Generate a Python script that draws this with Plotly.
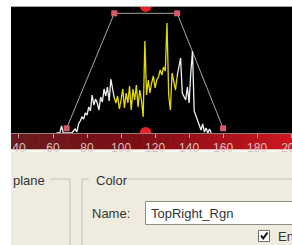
import plotly.graph_objects as go

# ---------------- data ----------------
bins = list(range(62, 154))
counts = [0, 0, 0, 7, 0, 0, 0, 0, 0, 0,
          2, 4, 1, 9, 12, 16, 14, 20, 18, 26,
          22, 38, 28, 34, 30, 23, 36, 31, 44, 37,
          46, 32, 54, 42, 35, 30, 37, 24, 33, 44,
          25, 40, 30, 47, 23, 44, 33, 48, 26, 43,
          33, 16, 92, 38, 53, 40, 50, 57, 45, 53,
          56, 63, 58, 66, 62, 110, 38, 23, 60, 50,
          43, 57, 66, 75, 40, 36, 33, 46, 30, 60,
          82, 22, 17, 13, 7, 3, 9, 1, 5, 0,
          4, 0]
trap_x = [68, 96, 133, 160]
trap_y = [4.7, 119.7, 119.7, 4.7]
mid_x = 114.5
tick_vals = [40, 60, 80, 100, 120, 140, 160, 180, 200]
tick_text = ["40", "60", "80", "100", "120", "140", "160", "180", "200"]
ui_texts = {"group1": "plane", "group2": "Color", "name_label": "Name:",
            "name_value": "TopRight_Rgn", "check": "En"}

# ---------------- layout helpers ----------------
W, H = 292, 245
def X(p): return p / W
def Y(p): return 1 - p / H

lo, hi = trap_x[1], trap_x[2]
wx1, wy1, wx2, wy2, yx, yy = [], [], [], [], [], []
for b, c in zip(bins, counts):
    if b <= lo:
        wx1.append(b); wy1.append(c)
    if b >= hi:
        wx2.append(b); wy2.append(c)
    if lo <= b <= hi:
        yx.append(b); yy.append(c)

fig = go.Figure()
fig.add_trace(go.Scatter(x=trap_x, y=trap_y, mode="lines",
                         line=dict(color="#a8a8a8", width=1), hoverinfo="skip"))
fig.add_trace(go.Scatter(x=wx1 + [None] + wx2, y=wy1 + [None] + wy2, mode="lines",
                         line=dict(color="#f2f2f2", width=1.3), hoverinfo="skip"))
fig.add_trace(go.Scatter(x=yx, y=yy, mode="lines",
                         line=dict(color="#e6dc00", width=1.3), hoverinfo="skip"))
fig.add_trace(go.Scatter(x=trap_x, y=trap_y, mode="markers",
                         marker=dict(symbol="square", size=6, color="#d85a6a",
                                     line=dict(width=0)), hoverinfo="skip"))
fig.add_trace(go.Scatter(x=[mid_x, mid_x], y=[127, 0], mode="markers",
                         marker=dict(symbol="circle", size=12, color="#e8202a",
                                     line=dict(width=0)), hoverinfo="skip"))

shapes = []
# red gradient axis band
n = 60
x0, x1 = 11, 292
stops = [(0.0, (105, 28, 32)), (0.45, (125, 14, 22)), (1.0, (205, 22, 32))]
def col(t):
    for (ta, ca), (tb, cb) in zip(stops[:-1], stops[1:]):
        if ta <= t <= tb:
            f = (t - ta) / (tb - ta)
            return "rgb(%d,%d,%d)" % tuple(int(ca[i] + (cb[i] - ca[i]) * f) for i in range(3))
    return "rgb(%d,%d,%d)" % stops[-1][1]
for i in range(n):
    a = x0 + (x1 - x0) * i / n
    b = x0 + (x1 - x0) * (i + 1) / n + 0.6
    shapes.append(dict(type="rect", xref="paper", yref="paper", x0=X(a), x1=X(b),
                       y0=Y(149.5), y1=Y(133), fillcolor=col(i / (n - 1)),
                       line=dict(width=0), layer="below"))
# line at top of band
shapes.append(dict(type="line", xref="paper", yref="paper", x0=X(11), x1=X(292),
                   y0=Y(133.5), y1=Y(133.5), line=dict(color="#9a7a7a", width=1), layer="above"))
# top gray line of the plot
shapes.append(dict(type="line", xref="paper", yref="paper", x0=X(11), x1=X(292),
                   y0=Y(6.5), y1=Y(6.5), line=dict(color="#a8a8a0", width=1), layer="above"))
# beige panel
shapes.append(dict(type="rect", xref="paper", yref="paper", x0=X(11), x1=X(293),
                   y0=Y(246), y1=Y(149.5), fillcolor="#efebdf", line=dict(width=0), layer="below"))
shapes.append(dict(type="line", xref="paper", yref="paper", x0=X(11), x1=X(292),
                   y0=Y(151), y1=Y(151), line=dict(color="#faf8f2", width=2), layer="below"))
# group boxes
gl = dict(color="#c4c0b0", width=1)
shapes += [
    dict(type="line", xref="paper", yref="paper", x0=X(50), x1=X(70), y0=Y(179), y1=Y(179), line=gl),
    dict(type="line", xref="paper", yref="paper", x0=X(70), x1=X(70), y0=Y(179), y1=Y(246), line=gl),
    dict(type="line", xref="paper", yref="paper", x0=X(82), x1=X(82), y0=Y(179), y1=Y(246), line=gl),
    dict(type="line", xref="paper", yref="paper", x0=X(82), x1=X(89), y0=Y(179), y1=Y(179), line=gl),
    dict(type="line", xref="paper", yref="paper", x0=X(128), x1=X(293), y0=Y(179), y1=Y(179), line=gl),
]
# input box
shapes.append(dict(type="rect", xref="paper", yref="paper", x0=X(145.5), x1=X(300),
                   y0=Y(224.5), y1=Y(201.5), fillcolor="#ffffff",
                   line=dict(color="#8c8c88", width=1)))
# checkbox
shapes.append(dict(type="rect", xref="paper", yref="paper", x0=X(258.5), x1=X(269.5),
                   y0=Y(241.5), y1=Y(230.5), fillcolor="#ffffff",
                   line=dict(color="#6c6c68", width=1)))
shapes.append(dict(type="path", xref="paper", yref="paper",
                   path="M %f %f L %f %f L %f %f" % (X(261), Y(235.5), X(263.3), Y(238.3), X(267.5), Y(232.5)),
                   line=dict(color="#101010", width=2)))

ann = []
tf = dict(family="Liberation Sans, Arial, sans-serif", size=13, color="#343434")
def text(t, x, y, anchor="left"):
    ann.append(dict(text=t, xref="paper", yref="paper", x=X(x), y=Y(y),
                    xanchor=anchor, yanchor="middle", showarrow=False, font=tf))
text(ui_texts["group1"], 11, 180)
text(ui_texts["group2"], 94, 180)
text(ui_texts["name_label"], 90, 213)
text(ui_texts["name_value"], 149, 213)
text(ui_texts["check"], 276, 236)

fig.update_layout(
    width=W, height=H, margin=dict(l=0, r=0, t=0, b=0),
    paper_bgcolor="#ffffff", plot_bgcolor="#000000",
    showlegend=False, template="none",
    xaxis=dict(domain=[X(11), 1], range=[35.3, 200.5], showgrid=False, zeroline=False,
               showline=False, tickvals=tick_vals, ticktext=tick_text,
               ticks="outside", ticklen=4, tickcolor="#c8a0a0", tickwidth=1,
               ticklabeloverflow="allow",
               tickfont=dict(family="Liberation Sans, Arial, sans-serif", size=12, color="#d8c0c0"),
               automargin=False, fixedrange=True),
    yaxis=dict(domain=[Y(133), Y(6)], range=[0, 127], visible=False,
               automargin=False, fixedrange=True),
    shapes=shapes, annotations=ann,
)
fig.write_html("out.html", config={"displayModeBar": False},
               post_script="document.body.style.margin='0';document.body.style.overflow='hidden';")
